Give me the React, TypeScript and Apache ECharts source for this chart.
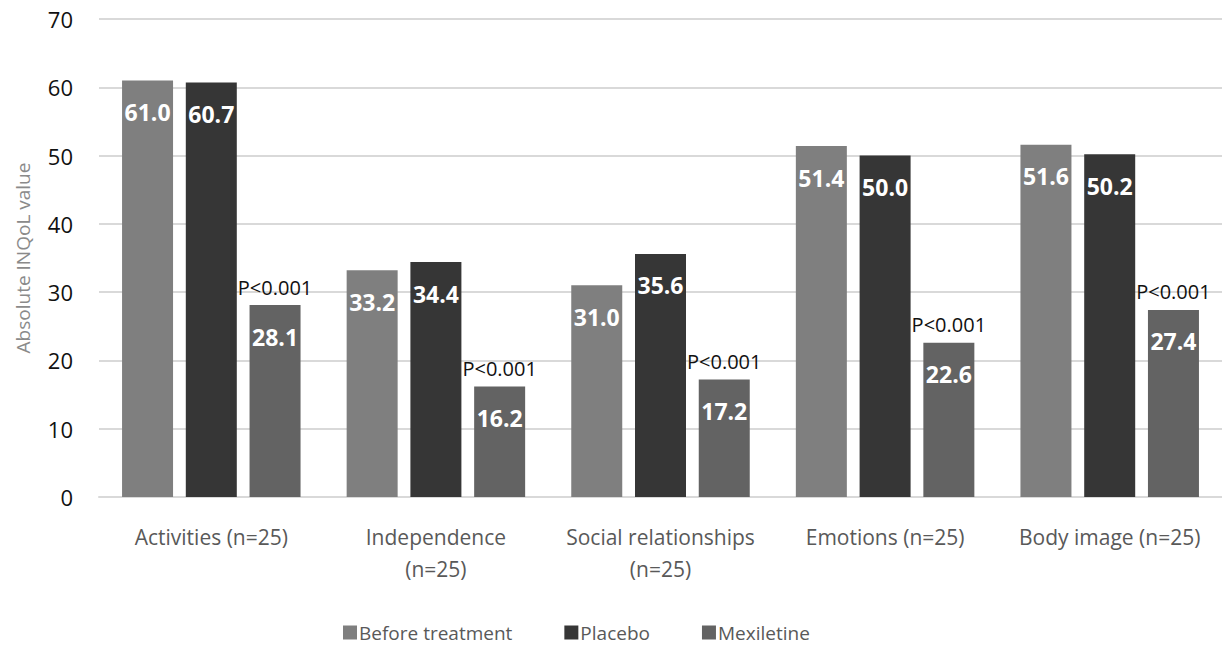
import React, { useEffect, useRef } from "react";
import * as echarts from "echarts";

const categories = [
  "Activities (n=25)",
  "Independence\n(n=25)",
  "Social relationships\n(n=25)",
  "Emotions (n=25)",
  "Body image (n=25)",
];
const beforeTreatment = [61.0, 33.2, 31.0, 51.4, 51.6];
const placebo = [60.7, 34.4, 35.6, 50.0, 50.2];
const mexiletine = [28.1, 16.2, 17.2, 22.6, 27.4];
const pValues = ["P<0.001", "P<0.001", "P<0.001", "P<0.001", "P<0.001"];
const pStackBase = [0, 0, 0, 0, 0];
const seriesNames = ["Before treatment", "Placebo", "Mexiletine"];
const yTicks = { min: 0, max: 70, interval: 10 };

const FONT = "'Open Sans', Lato, sans-serif";
const COLORS = ["#7f7f7f", "#363636", "#636363"];

export default function App() {
  const ref = useRef<HTMLDivElement>(null);
  useEffect(() => {
    if (!ref.current) return;
    const chart = echarts.init(ref.current, undefined, { renderer: "svg" });
    const valueLabel = {
      show: true,
      position: "insideTop",
      distance: 20,
      color: "#ffffff",
      fontFamily: FONT,
      fontWeight: "bold",
      fontSize: 23,
      formatter: (p: any) => Number(p.value).toFixed(1),
    };
    const mk = (name: string, data: number[], i: number, stack?: string) => ({
      name,
      type: "bar",
      data,
      barWidth: 51,
      barGap: "25%",
      stack,
      itemStyle: { color: COLORS[i] },
      label: valueLabel,
    });
    chart.setOption({
      animation: false,
      textStyle: { fontFamily: FONT },
      grid: { left: 99, right: -5, top: 19, bottom: 152, containLabel: false },
      legend: {
        data: seriesNames,
        bottom: 2,
        left: 338,
        itemWidth: 14,
        itemHeight: 14,
        itemGap: 52,
        icon: "rect",
        textStyle: { fontFamily: FONT, fontSize: 19, color: "#595959", padding: [0, 0, 0, -3] },
      },
      xAxis: {
        type: "category",
        data: categories,
        axisTick: { show: false },
        axisLine: { lineStyle: { color: "#d9d9d9", width: 2 } },
        axisLabel: {
          fontFamily: FONT,
          fontSize: 21,
          color: "#595959",
          margin: 24,
          lineHeight: 32,
          interval: 0,
        },
      },
      yAxis: {
        type: "value",
        min: yTicks.min,
        max: yTicks.max,
        interval: yTicks.interval,
        name: "Absolute INQoL value",
        nameLocation: "middle",
        nameGap: 67,
        nameTextStyle: { fontFamily: FONT, fontSize: 19, color: "#8a8a8a" },
        axisLine: { show: false },
        axisTick: { show: false },
        splitLine: { lineStyle: { color: "#d9d9d9", width: 2 } },
        axisLabel: { fontFamily: FONT, fontSize: 22, color: "#111111", margin: 26 },
      },
      series: [
        mk(seriesNames[0], beforeTreatment, 0),
        mk(seriesNames[1], placebo, 1),
        mk(seriesNames[2], mexiletine, 2, "m"),
        {
          name: "p",
          type: "bar",
          data: pStackBase,
          stack: "m",
          barWidth: 51,
          barGap: "25%",
          itemStyle: { color: "transparent" },
          silent: true,
          label: {
            show: true,
            position: "top",
            distance: 8,
            color: "#111111",
            fontFamily: FONT,
            fontSize: 20,
            formatter: (p: any) => pValues[p.dataIndex],
          },
        },
      ],
    });
    return () => chart.dispose();
  }, []);
  return <div ref={ref} style={{ width: 1222, height: 649, position: "absolute", left: 0, top: 0 }} />;
}
